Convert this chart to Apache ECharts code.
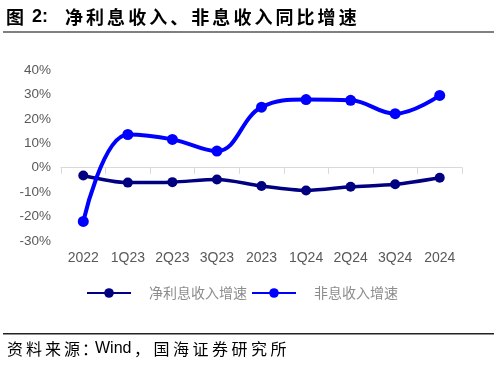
<!DOCTYPE html>
<html><head><meta charset="utf-8">
<script src="https://cdn.jsdelivr.net/npm/echarts@6/dist/echarts.min.js"></script>
<style>html,body{margin:0;padding:0;background:#fff}#c{width:498px;height:365px}</style>
</head><body><div id="c"></div>
<script>
var categories = ['2022','1Q23','2Q23','3Q23','2023','1Q24','2Q24','3Q24','2024'];
var netInterest = [-3.2, -6.1, -5.9, -4.8, -7.5, -9.3, -7.8, -6.8, -4.1];
var nonInterest = [-22.0, 13.6, 11.6, 6.8, 24.8, 27.9, 27.6, 22.1, 29.6];
var seriesNames = ['净利息收入增速', '非息收入增速'];
var yTicks = {min: -30, max: 40, interval: 10};
var titleLabel = '图';
var titleNum = '2:';
var titleText = '净利息收入、非息收入同比增速';
var sourcePre = '资料来源';
var sourceColon = '：';
var sourceWind = 'Wind';
var sourcePost = '，国海证券研究所';

var cjk = 'Noto Sans CJK SC, sans-serif';
var latin = 'Liberation Sans, Arial, sans-serif';

function spaced(str, x0, pitch, yc, size, weight, font) {
  var out = [];
  for (var i = 0; i < str.length; i++) {
    out.push({type: 'text', x: x0 + i * pitch, y: yc,
      style: {text: str[i], fontSize: size, fontWeight: weight, fill: '#000', fontFamily: font, verticalAlign: 'middle'}});
  }
  return out;
}

var graphics = [];
graphics.push({type: 'text', x: 6, y: 17, style: {text: titleLabel, fontSize: 18, fontWeight: 'bold', fill: '#000', fontFamily: cjk, verticalAlign: 'middle'}});
graphics.push({type: 'text', x: 32, y: 17, style: {text: titleNum, fontSize: 18, fontWeight: 'bold', fill: '#000', fontFamily: latin, verticalAlign: 'middle'}});
graphics = graphics.concat(spaced(titleText, 65, 21.05, 17, 18, 'bold', cjk));
graphics.push({type: 'rect', shape: {x: 3, y: 31, width: 491, height: 2}, style: {fill: '#808080'}});
graphics.push({type: 'rect', shape: {x: 3, y: 333, width: 491, height: 1.5}, style: {fill: '#222'}});
graphics = graphics.concat(spaced(sourcePre, 7, 19, 349, 16, 'normal', cjk));
graphics.push({type: 'text', x: 82, y: 349, style: {text: sourceColon, fontSize: 16, fill: '#000', fontFamily: cjk, verticalAlign: 'middle'}});
graphics.push({type: 'text', x: 95, y: 349, style: {text: sourceWind, fontSize: 16, fill: '#000', fontFamily: latin, verticalAlign: 'middle'}});
graphics = graphics.concat(spaced(sourcePost, 134, 19.5, 349, 16, 'normal', cjk));

var chart = echarts.init(document.getElementById('c'));
chart.setOption({
  animation: false,
  backgroundColor: '#fff',
  graphic: graphics,
  grid: {left: 61, right: 36, top: 70, bottom: 124},
  legend: {
    left: 81, top: 281, itemWidth: 44, itemHeight: 12, itemGap: 4,
    textStyle: {color: '#8c8c8c', fontSize: 14, fontFamily: cjk, padding: [0, 0, 0, 13]},
    data: seriesNames
  },
  xAxis: {
    type: 'category', data: categories, boundaryGap: true,
    axisLine: {lineStyle: {color: '#d9d9d9', width: 1}},
    axisTick: {show: true, length: 6, lineStyle: {color: '#d9d9d9'}},
    axisLabel: {margin: 10, color: '#595959', fontSize: 14, fontFamily: latin}
  },
  yAxis: {
    type: 'value', min: yTicks.min, max: yTicks.max, interval: yTicks.interval,
    axisLine: {show: false}, axisTick: {show: false}, splitLine: {show: false},
    axisLabel: {formatter: '{value}%', margin: 10, color: '#595959', fontSize: 13.5, fontFamily: latin}
  },
  series: [
    {name: seriesNames[0], type: 'line', data: netInterest, smooth: 0.3,
     symbol: 'circle', symbolSize: 10, color: '#000080',
     lineStyle: {width: 3.5, color: '#000080'}, itemStyle: {color: '#000080'}},
    {name: seriesNames[1], type: 'line', data: nonInterest, smooth: 0.4,
     symbol: 'circle', symbolSize: 11, color: '#0000ff',
     lineStyle: {width: 4, color: '#0000ff'}, itemStyle: {color: '#0000ff'}}
  ]
});
</script></body></html>
